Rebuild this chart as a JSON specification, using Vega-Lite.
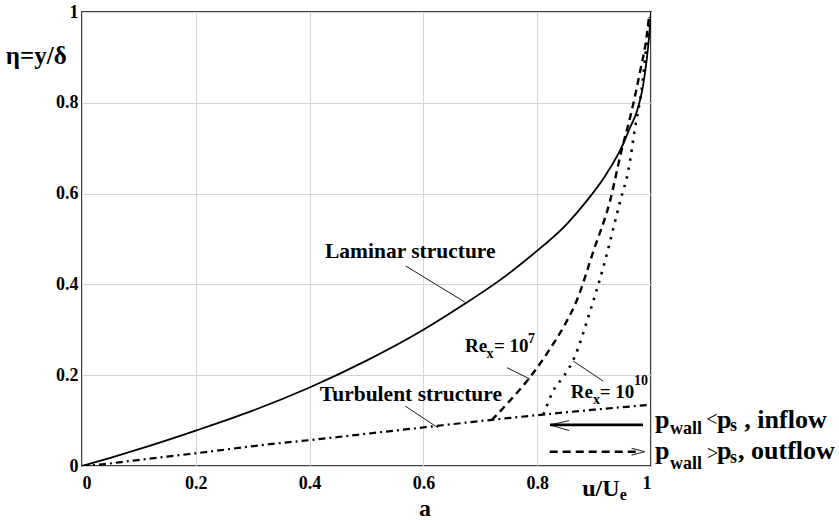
{
  "$schema": "https://vega.github.io/schema/vega-lite/v6.json",
  "width": 569,
  "height": 454,
  "autosize": {"type": "none"},
  "padding": {"left": 82, "top": 12, "right": 188, "bottom": 54},
  "background": "white",
  "config": {
    "view": {"stroke": "black", "strokeWidth": 1.5},
    "font": "Liberation Serif",
    "axis": {
      "labelFont": "Liberation Serif",
      "labelFontWeight": "bold",
      "labelFontSize": 18,
      "labelColor": "black",
      "ticks": false,
      "domain": false,
      "grid": true,
      "gridColor": "#d4d4d4",
      "gridWidth": 1,
      "title": null
    },
    "text": {"font": "Liberation Serif", "fontWeight": "bold", "color": "black", "align": "left", "baseline": "alphabetic"}
  },
  "datasets": {
    "curves": [
      {"curve": "laminar", "u": 0, "eta": 0},
      {"curve": "laminar", "u": 0.05, "eta": 0.018},
      {"curve": "laminar", "u": 0.1, "eta": 0.037},
      {"curve": "laminar", "u": 0.2, "eta": 0.078},
      {"curve": "laminar", "u": 0.3, "eta": 0.122},
      {"curve": "laminar", "u": 0.4, "eta": 0.173},
      {"curve": "laminar", "u": 0.5, "eta": 0.232},
      {"curve": "laminar", "u": 0.6, "eta": 0.3},
      {"curve": "laminar", "u": 0.67, "eta": 0.355},
      {"curve": "laminar", "u": 0.735, "eta": 0.41},
      {"curve": "laminar", "u": 0.793, "eta": 0.467},
      {"curve": "laminar", "u": 0.852, "eta": 0.533},
      {"curve": "laminar", "u": 0.887, "eta": 0.584},
      {"curve": "laminar", "u": 0.92, "eta": 0.64},
      {"curve": "laminar", "u": 0.951, "eta": 0.709},
      {"curve": "laminar", "u": 0.963, "eta": 0.745},
      {"curve": "laminar", "u": 0.975, "eta": 0.78},
      {"curve": "laminar", "u": 0.985, "eta": 0.83},
      {"curve": "laminar", "u": 0.992, "eta": 0.89},
      {"curve": "laminar", "u": 0.997, "eta": 0.95},
      {"curve": "laminar", "u": 1, "eta": 1},
      {"curve": "turbulent", "u": 0, "eta": 0},
      {"curve": "turbulent", "u": 0.03, "eta": 0.003},
      {"curve": "turbulent", "u": 0.09, "eta": 0.012},
      {"curve": "turbulent", "u": 0.2, "eta": 0.028},
      {"curve": "turbulent", "u": 0.33, "eta": 0.048},
      {"curve": "turbulent", "u": 0.4, "eta": 0.057},
      {"curve": "turbulent", "u": 0.5, "eta": 0.071},
      {"curve": "turbulent", "u": 0.6, "eta": 0.085},
      {"curve": "turbulent", "u": 0.7, "eta": 0.099},
      {"curve": "turbulent", "u": 0.8, "eta": 0.112},
      {"curve": "turbulent", "u": 0.9, "eta": 0.124},
      {"curve": "turbulent", "u": 1, "eta": 0.135},
      {"curve": "re7", "u": 0.72, "eta": 0.101},
      {"curve": "re7", "u": 0.76, "eta": 0.155},
      {"curve": "re7", "u": 0.787, "eta": 0.195},
      {"curve": "re7", "u": 0.822, "eta": 0.257},
      {"curve": "re7", "u": 0.848, "eta": 0.31},
      {"curve": "re7", "u": 0.869, "eta": 0.363},
      {"curve": "re7", "u": 0.899, "eta": 0.474},
      {"curve": "re7", "u": 0.928, "eta": 0.584},
      {"curve": "re7", "u": 0.948, "eta": 0.694},
      {"curve": "re7", "u": 0.966, "eta": 0.782},
      {"curve": "re7", "u": 0.981, "eta": 0.87},
      {"curve": "re7", "u": 0.992, "eta": 0.943},
      {"curve": "re7", "u": 0.997, "eta": 0.995},
      {"curve": "re10", "u": 0.811, "eta": 0.113},
      {"curve": "re10", "u": 0.828, "eta": 0.165},
      {"curve": "re10", "u": 0.848, "eta": 0.2},
      {"curve": "re10", "u": 0.864, "eta": 0.235},
      {"curve": "re10", "u": 0.893, "eta": 0.341},
      {"curve": "re10", "u": 0.916, "eta": 0.437},
      {"curve": "re10", "u": 0.946, "eta": 0.584},
      {"curve": "re10", "u": 0.96, "eta": 0.65},
      {"curve": "re10", "u": 0.972, "eta": 0.745},
      {"curve": "re10", "u": 0.984, "eta": 0.833},
      {"curve": "re10", "u": 0.992, "eta": 0.925},
      {"curve": "re10", "u": 0.998, "eta": 0.988}
    ],
    "thin": [
      {"seg": "lam", "u": 0.569, "eta": 0.4405},
      {"seg": "lam", "u": 0.673, "eta": 0.361},
      {"seg": "turb", "u": 0.568, "eta": 0.132},
      {"seg": "turb", "u": 0.626, "eta": 0.084},
      {"seg": "re7", "u": 0.747, "eta": 0.2165},
      {"seg": "re7", "u": 0.788, "eta": 0.191},
      {"seg": "re10", "u": 0.8635, "eta": 0.231},
      {"seg": "re10", "u": 0.916, "eta": 0.187},
      {"seg": "inA", "u": 0.8225, "eta": 0.0905},
      {"seg": "inA", "u": 0.856, "eta": 0.1},
      {"seg": "inB", "u": 0.8225, "eta": 0.0905},
      {"seg": "inB", "u": 0.856, "eta": 0.078},
      {"seg": "outA", "u": 0.966, "eta": 0.039},
      {"seg": "outA", "u": 0.989, "eta": 0.0315},
      {"seg": "outB", "u": 0.966, "eta": 0.024},
      {"seg": "outB", "u": 0.989, "eta": 0.0315}
    ],
    "shafts": [
      {"seg": "inflow", "u": 0.8225, "eta": 0.0905},
      {"seg": "inflow", "u": 0.986, "eta": 0.0905},
      {"seg": "outflow", "u": 0.822, "eta": 0.0315},
      {"seg": "outflow", "u": 0.975, "eta": 0.0315}
    ],
    "texts": [
      {"role": "annot", "u": 0.427, "eta": 0.458, "text": "Laminar structure"},
      {"role": "annot", "u": 0.418, "eta": 0.143, "text": "Turbulent structure"},
      {"role": "re", "u": 0.673, "eta": 0.251, "text": "Re"},
      {"role": "resub", "u": 0.711, "eta": 0.238, "text": "x"},
      {"role": "re", "u": 0.724, "eta": 0.251, "text": "= 10"},
      {"role": "resub", "u": 0.784, "eta": 0.272, "text": "7"},
      {"role": "re", "u": 0.859, "eta": 0.15, "text": "Re"},
      {"role": "resub", "u": 0.898, "eta": 0.137, "text": "x"},
      {"role": "re", "u": 0.91, "eta": 0.15, "text": "= 10"},
      {"role": "resub", "u": 0.97, "eta": 0.178, "text": "10"},
      {"role": "legend", "u": 1.007, "eta": 0.0844, "text": "p"},
      {"role": "legendsub", "u": 1.0334, "eta": 0.0705, "text": "wall"},
      {"role": "legendop", "u": 1.097, "eta": 0.101, "text": "<"},
      {"role": "legend", "u": 1.116, "eta": 0.0844, "text": "p"},
      {"role": "legendsub", "u": 1.139, "eta": 0.077, "text": "s"},
      {"role": "legend", "u": 1.164, "eta": 0.0844, "text": ", inflow"},
      {"role": "legend", "u": 1.007, "eta": 0.0154, "text": "p"},
      {"role": "legendsub", "u": 1.0334, "eta": -0.0066, "text": "wall"},
      {"role": "legendop", "u": 1.0984, "eta": 0.0264, "text": ">"},
      {"role": "legend", "u": 1.116, "eta": 0.0154, "text": "p"},
      {"role": "legendsub", "u": 1.139, "eta": 0.0066, "text": "s"},
      {"role": "legend", "u": 1.153, "eta": 0.0154, "text": ", outflow"},
      {"role": "xtitle", "u": 0.879, "eta": -0.066, "text": "u/U"},
      {"role": "xtitlesub", "u": 0.945, "eta": -0.075, "text": "e"},
      {"role": "caption", "u": 0.603, "eta": -0.11, "text": "a"},
      {"role": "ytitle", "u": -0.134, "eta": 0.885, "text": "η=y/δ"}
    ]
  },
  "encoding": {
    "x": {"field": "u", "type": "quantitative", "scale": {"domain": [0, 1], "nice": false, "zero": false}, "axis": {"labelPadding": 8, "labelDx": 3, "values": [0, 0.2, 0.4, 0.6, 0.8, 1], "format": "~g"}},
    "y": {"field": "eta", "type": "quantitative", "scale": {"domain": [0, 1], "nice": false, "zero": false}, "axis": {"labelPadding": 4, "labelDy": 1, "values": [0, 0.2, 0.4, 0.6, 0.8, 1], "format": "~g"}}
  },
  "layer": [
    {
      "data": {"name": "curves"},
      "transform": [{"filter": "datum.curve === 'laminar'"}],
      "mark": {"type": "line", "color": "black", "strokeWidth": 1.8, "interpolate": "monotone", "clip": true}
    },
    {
      "data": {"name": "curves"},
      "transform": [{"filter": "datum.curve === 'turbulent'"}],
      "mark": {"type": "line", "color": "black", "strokeWidth": 2.2, "strokeDash": [7, 4, 2, 4], "interpolate": "monotone", "clip": true}
    },
    {
      "data": {"name": "curves"},
      "transform": [{"filter": "datum.curve === 're7'"}],
      "mark": {"type": "line", "color": "black", "strokeWidth": 2.4, "strokeDash": [7, 5], "interpolate": "monotone", "clip": true}
    },
    {
      "data": {"name": "curves"},
      "transform": [{"filter": "datum.curve === 're10'"}],
      "mark": {"type": "line", "color": "black", "strokeWidth": 2.6, "strokeDash": [2.5, 6.5], "interpolate": "monotone", "clip": true}
    },
    {
      "data": {"name": "thin"},
      "mark": {"type": "line", "color": "black", "strokeWidth": 0.9},
      "encoding": {"detail": {"field": "seg"}}
    },
    {
      "data": {"name": "shafts"},
      "transform": [{"filter": "datum.seg === 'inflow'"}],
      "mark": {"type": "line", "color": "black", "strokeWidth": 2.6}
    },
    {
      "data": {"name": "shafts"},
      "transform": [{"filter": "datum.seg === 'outflow'"}],
      "mark": {"type": "line", "color": "black", "strokeWidth": 2.6, "strokeDash": [8, 5]}
    },
    {
      "data": {"name": "texts"},
      "transform": [{"filter": "datum.role === 'annot'"}],
      "mark": {"type": "text", "fontSize": 21.5},
      "encoding": {"text": {"field": "text"}}
    },
    {
      "data": {"name": "texts"},
      "transform": [{"filter": "datum.role === 're'"}],
      "mark": {"type": "text", "fontSize": 19},
      "encoding": {"text": {"field": "text"}}
    },
    {
      "data": {"name": "texts"},
      "transform": [{"filter": "datum.role === 'resub'"}],
      "mark": {"type": "text", "fontSize": 14},
      "encoding": {"text": {"field": "text"}}
    },
    {
      "data": {"name": "texts"},
      "transform": [{"filter": "datum.role === 'legend'"}],
      "mark": {"type": "text", "fontSize": 26},
      "encoding": {"text": {"field": "text"}}
    },
    {
      "data": {"name": "texts"},
      "transform": [{"filter": "datum.role === 'legendsub'"}],
      "mark": {"type": "text", "fontSize": 18},
      "encoding": {"text": {"field": "text"}}
    },
    {
      "data": {"name": "texts"},
      "transform": [{"filter": "datum.role === 'legendop'"}],
      "mark": {"type": "text", "fontSize": 20, "fontWeight": "normal", "baseline": "middle"},
      "encoding": {"text": {"field": "text"}}
    },
    {
      "data": {"name": "texts"},
      "transform": [{"filter": "datum.role === 'xtitle'"}],
      "mark": {"type": "text", "fontSize": 24},
      "encoding": {"text": {"field": "text"}}
    },
    {
      "data": {"name": "texts"},
      "transform": [{"filter": "datum.role === 'xtitlesub'"}],
      "mark": {"type": "text", "fontSize": 16},
      "encoding": {"text": {"field": "text"}}
    },
    {
      "data": {"name": "texts"},
      "transform": [{"filter": "datum.role === 'caption'"}],
      "mark": {"type": "text", "fontSize": 24, "align": "center"},
      "encoding": {"text": {"field": "text"}}
    },
    {
      "data": {"name": "texts"},
      "transform": [{"filter": "datum.role === 'ytitle'"}],
      "mark": {"type": "text", "fontSize": 25},
      "encoding": {"text": {"field": "text"}}
    }
  ]
}
